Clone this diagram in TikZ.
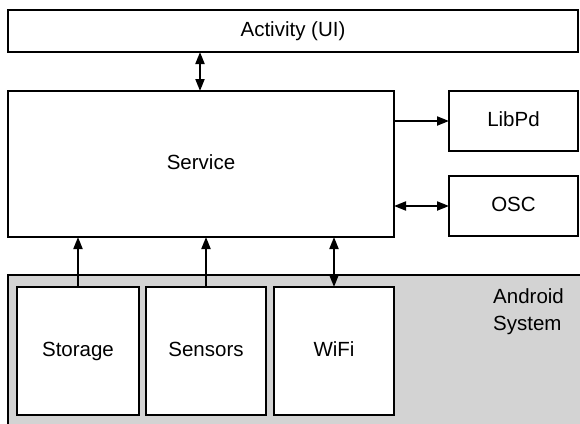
\documentclass[tikz,border=0pt]{standalone}
\usepackage{fontspec}
\setmainfont{Liberation Sans}
\usetikzlibrary{arrows.meta}
\begin{document}
\begin{tikzpicture}[x=1pt,y=-1pt,
  box/.style={draw=black,line width=2pt,fill=white,inner sep=0pt,outer sep=0pt,font=\fontsize{20.5}{24}\selectfont,text height=15pt,text depth=4pt},
  conn/.style={line width=2pt,-{Triangle[length=12pt,width=9pt]}},
  biconn/.style={line width=2pt,{Triangle[length=12pt,width=9pt]}-{Triangle[length=12pt,width=9pt]}}]
\useasboundingbox (0,0) rectangle (580,423);
\begin{scope}
\clip (0,0) rectangle (580,423);
\draw[line width=2pt,fill={rgb,255:red,211;green,211;blue,211}] (8,275) rectangle (620,460);
\end{scope}
\node[box,minimum width=570pt,minimum height=42pt] (act) at (293,31) {Activity (UI)};
\node[box,minimum width=386pt,minimum height=146pt] (srv) at (201,164) {Service};
\node[box,minimum width=129pt,minimum height=60pt] (lib) at (513.5,121) {LibPd};
\node[box,minimum width=129pt,minimum height=60pt] (osc) at (513.5,206) {OSC};
\node[box,minimum width=122pt,minimum height=128pt] (sto) at (78,351) {Storage};
\node[box,minimum width=120pt,minimum height=128pt] (sen) at (206,351) {Sensors};
\node[box,minimum width=120pt,minimum height=128pt] (wifi) at (334,351) {WiFi};
\node[anchor=north west,align=left,inner sep=0pt,font=\fontsize{20.5}{27}\selectfont] (andr) at (493,288) {Android\\System};
\draw[biconn] ([xshift=-1pt]srv.north) -- ([xshift=-1pt]srv.north |- act.south);
\draw[conn] (srv.east |- lib.west) -- (lib.west);
\draw[biconn] (srv.east |- osc.west) -- (osc.west);
\draw[conn] (sto.north) -- (sto.north |- srv.south);
\draw[conn] (sen.north) -- (sen.north |- srv.south);
\draw[biconn] (wifi.north) -- (wifi.north |- srv.south);
\end{tikzpicture}
\end{document}
